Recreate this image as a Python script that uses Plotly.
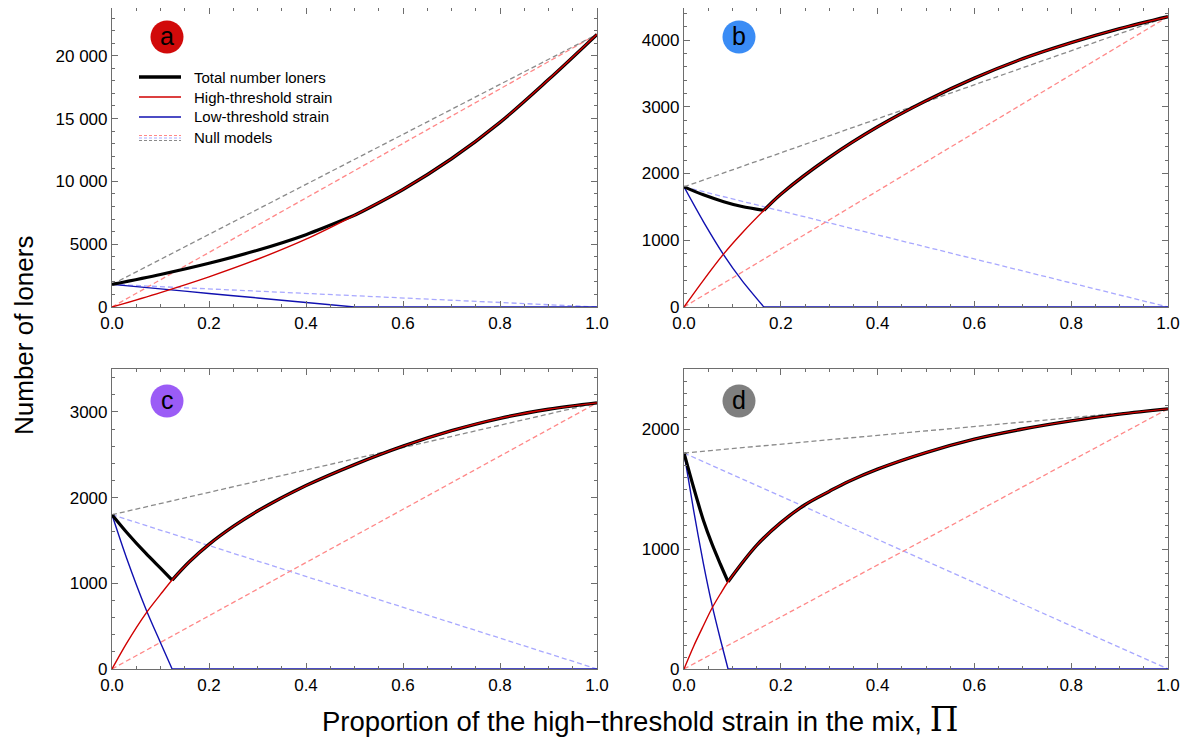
import plotly.graph_objects as go

# The page body has an 8px margin, so the figure is drawn 8px in from the window corner.
OFF = 8
W, H = 1193 - OFF, 743 - OFF


def px(x):
    return (x - OFF) / W


def py(y):
    return min(1.0, max(0.0, 1 - (y - OFF) / H))


# ---------------- data ----------------
# Panel a
PI_A = [0, 0.1, 0.2, 0.3, 0.4, 0.5, 0.6, 0.7, 0.8, 0.9, 1.0]
HIGH_A = [0, 1150, 2400, 3800, 5400, 7300, 9360, 11800, 14700, 18100, 21700]
LOW_A = [1800, 1440, 1080, 720, 360, 0, 0, 0, 0, 0, 0]
TOTAL_A = [1800, 2590, 3480, 4520, 5760, 7300, 9360, 11800, 14700, 18100, 21700]
KINK_A = 5

# Panel b
PI_B = [0, 0.04, 0.082, 0.12, 0.165, 0.2, 0.3, 0.4, 0.5, 0.6, 0.7, 0.8, 0.9, 1.0]
HIGH_B = [0, 400, 796, 1110, 1447, 1690, 2240, 2700, 3090, 3430, 3720, 3960, 4170, 4350]
LOW_B = [1800, 1280, 782, 395, 0, 0, 0, 0, 0, 0, 0, 0, 0, 0]
TOTAL_B = [1800, 1680, 1578, 1505, 1447, 1690, 2240, 2700, 3090, 3430, 3720, 3960, 4170, 4350]
KINK_B = 4

# Panel c
PI_C = [0, 0.03, 0.07, 0.1, 0.124, 0.16, 0.2, 0.25, 0.3, 0.4, 0.5, 0.6, 0.7, 0.8, 0.9, 1.0]
HIGH_C = [0, 300, 650, 870, 1038, 1254, 1454, 1663, 1843, 2140, 2385, 2600, 2780, 2925, 3030, 3105]
LOW_C = [1800, 1296, 698, 307, 0, 0, 0, 0, 0, 0, 0, 0, 0, 0, 0, 0]
TOTAL_C = [1800, 1596, 1348, 1177, 1038, 1254, 1454, 1663, 1843, 2140, 2385, 2600, 2780, 2925, 3030, 3105]
KINK_C = 4

# Panel d
PI_D = [0, 0.02, 0.04, 0.058, 0.075, 0.091, 0.15, 0.2, 0.25, 0.3, 0.34, 0.4, 0.5, 0.6, 0.7, 0.8, 0.9, 1.0]
HIGH_D = [0, 190, 360, 508, 625, 727, 1030, 1220, 1369, 1480, 1563, 1666, 1804, 1916, 2000, 2068, 2124, 2168]
LOW_D = [1800, 1320, 880, 532, 250, 0, 0, 0, 0, 0, 0, 0, 0, 0, 0, 0, 0, 0]
TOTAL_D = [1800, 1510, 1240, 1040, 875, 727, 1030, 1220, 1369, 1480, 1563, 1666, 1804, 1916, 2000, 2068, 2124, 2168]
KINK_D = 5

# Null models (straight lines between end points)
NULL_PI = [0, 1]
NULL_TOTAL = {"a": [1800, 21700], "b": [1800, 4350], "c": [1800, 3105], "d": [1800, 2168]}
NULL_HIGH = {"a": [0, 21700], "b": [0, 4350], "c": [0, 3105], "d": [0, 2168]}
NULL_LOW = {"a": [1800, 0], "b": [1800, 0], "c": [1800, 0], "d": [1800, 0]}

X_TICKS = [0, 0.2, 0.4, 0.6, 0.8, 1.0]
X_TICKTEXT = ["0.0", "0.2", "0.4", "0.6", "0.8", "1.0"]
Y_TICKS = {
    "a": ([0, 5000, 10000, 15000, 20000], ["0", "5000", "10 000", "15 000", "20 000"]),
    "b": ([0, 1000, 2000, 3000, 4000], ["0", "1000", "2000", "3000", "4000"]),
    "c": ([0, 1000, 2000, 3000], ["0", "1000", "2000", "3000"]),
    "d": ([0, 1000, 2000], ["0", "1000", "2000"]),
}
Y_RANGE = {"a": 23800, "b": 4480, "c": 3500, "d": 2500}
Y_MINOR = {"a": 1000, "b": 200, "c": 200, "d": 100}

PANELS = {
    "a": (PI_A, HIGH_A, LOW_A, TOTAL_A, KINK_A),
    "b": (PI_B, HIGH_B, LOW_B, TOTAL_B, KINK_B),
    "c": (PI_C, HIGH_C, LOW_C, TOTAL_C, KINK_C),
    "d": (PI_D, HIGH_D, LOW_D, TOTAL_D, KINK_D),
}
BADGE_COLORS = {"a": "#d10a0a", "b": "#3a8cf5", "c": "#9b5cf6", "d": "#7f7f7f"}

# ---------------- layout geometry (window pixels) ----------------
COLS = [(112, 597), (684, 1168)]
ROWS = [(8, 307), (369, 669)]
POS = {"a": (0, 0), "b": (1, 0), "c": (0, 1), "d": (1, 1)}
BADGE = {"a": (167, 37), "b": (739, 37), "c": (167, 401), "d": (739, 401)}

RED = "#d00000"
BLUE = "#1010b0"
NRED = "#ff8888"
NBLUE = "#a8a8ff"
NGRAY = "#8a8a8a"
DASH = "5px,3px"
FONT = "Liberation Sans, Arial, sans-serif"

fig = go.Figure()
layout = {}
shapes = []
annotations = []

for i, key in enumerate(["a", "b", "c", "d"]):
    n = "" if i == 0 else str(i + 1)
    xa, ya = "x" + n, "y" + n
    pi, high, low, total, k = PANELS[key]
    common = dict(xaxis=xa, yaxis=ya, showlegend=False, hoverinfo="skip")
    fig.add_trace(go.Scatter(x=NULL_PI, y=NULL_LOW[key], mode="lines",
                             line=dict(color=NBLUE, width=1.3, dash=DASH), **common))
    fig.add_trace(go.Scatter(x=NULL_PI, y=NULL_HIGH[key], mode="lines",
                             line=dict(color=NRED, width=1.3, dash=DASH), **common))
    fig.add_trace(go.Scatter(x=NULL_PI, y=NULL_TOTAL[key], mode="lines",
                             line=dict(color=NGRAY, width=1.3, dash=DASH), **common))
    fig.add_trace(go.Scatter(x=pi[:k + 1], y=low[:k + 1], mode="lines", line_shape="spline",
                             line=dict(color=BLUE, width=1.4, smoothing=0.8), **common))
    fig.add_trace(go.Scatter(x=pi[k:], y=low[k:], mode="lines",
                             line=dict(color=BLUE, width=1.4), **common))
    fig.add_trace(go.Scatter(x=pi[:k + 1], y=total[:k + 1], mode="lines", line_shape="spline",
                             line=dict(color="black", width=3.2, smoothing=0.8), **common))
    fig.add_trace(go.Scatter(x=pi[k:], y=total[k:], mode="lines", line_shape="spline",
                             line=dict(color="black", width=3.4), **common))
    fig.add_trace(go.Scatter(x=pi, y=high, mode="lines", line_shape="spline",
                             line=dict(color=RED, width=1.4, smoothing=0.9), **common))

    c, r = POS[key]
    x0, x1 = COLS[c]
    y0, y1 = ROWS[r]
    tv, tt = Y_TICKS[key]
    axstyle = dict(showline=True, linecolor="#6e6e6e", linewidth=1.2, mirror="allticks",
                   ticks="inside", ticklen=6, tickcolor="#6e6e6e", tickwidth=1,
                   showgrid=False, zeroline=False, automargin=False,
                   tickfont=dict(family=FONT, size=17, color="black"))
    layout["xaxis" + n] = dict(domain=[px(x0), px(x1)], anchor=ya, range=[0, 1],
                               tickvals=X_TICKS, ticktext=X_TICKTEXT,
                               minor=dict(dtick=0.05, ticks="inside", ticklen=3, tickcolor="#6e6e6e"),
                               **axstyle)
    layout["yaxis" + n] = dict(domain=[py(y1), py(y0)], anchor=xa,
                               range=[0, Y_RANGE[key]], tickvals=tv, ticktext=tt,
                               minor=dict(dtick=Y_MINOR[key], ticks="inside", ticklen=3,
                                          tickcolor="#6e6e6e"),
                               **axstyle)

    bx, by = BADGE[key]
    rad = 16.5
    shapes.append(dict(type="circle", xref="paper", yref="paper",
                       x0=px(bx - rad), x1=px(bx + rad),
                       y0=py(by + rad), y1=py(by - rad),
                       fillcolor=BADGE_COLORS[key], line=dict(width=0), layer="above"))
    annotations.append(dict(text=key, x=px(bx), y=py(by - 1), xref="paper", yref="paper",
                            showarrow=False, xanchor="center", yanchor="middle",
                            font=dict(family=FONT, size=25, color="black")))

# ---------------- hand-drawn legend in panel a ----------------
LEG_X0, LEG_X1, LEG_TX = 139, 181, 192
legend_rows = [
    ("Total number loners", 77, [("black", 3.4, "solid", 0)]),
    ("High-threshold strain", 97, [(RED, 1.4, "solid", 0)]),
    ("Low-threshold strain", 117, [(BLUE, 1.4, "solid", 0)]),
    ("Null models", 138, [(NRED, 1.0, "3px,2px", -2.5), (NBLUE, 1.0, "3px,2px", 0),
                          (NGRAY, 1.0, "3px,2px", 2.5)]),
]
for label, yy, lines in legend_rows:
    for col, wd, ds, off in lines:
        shapes.append(dict(type="line", xref="paper", yref="paper",
                           x0=px(LEG_X0), x1=px(LEG_X1),
                           y0=py(yy + off), y1=py(yy + off),
                           line=dict(color=col, width=wd, dash=ds)))
    annotations.append(dict(text=label, x=px(LEG_TX), y=py(yy), xref="paper", yref="paper",
                            showarrow=False, xanchor="left", yanchor="middle",
                            font=dict(family=FONT, size=15, color="black")))

# ---------------- axis titles ----------------
annotations.append(dict(text="Number of loners", x=px(24), y=py(336), xref="paper", yref="paper",
                        showarrow=False, textangle=-90, xanchor="center", yanchor="middle",
                        font=dict(family=FONT, size=26, color="black")))
annotations.append(dict(
    text="Proportion of the high\u2212threshold strain in the mix, "
         "<span style=\"font-family:'DejaVu Serif', serif; font-size:33px\">\u03a0</span>",
    x=px(640), y=py(719), xref="paper", yref="paper", showarrow=False,
    xanchor="center", yanchor="middle", font=dict(family=FONT, size=27.5, color="black")))

fig.update_layout(width=W, height=H, margin=dict(l=0, r=0, t=0, b=0),
                  paper_bgcolor="white", plot_bgcolor="white",
                  shapes=shapes, annotations=annotations, **layout)

fig.write_html("out.html")
